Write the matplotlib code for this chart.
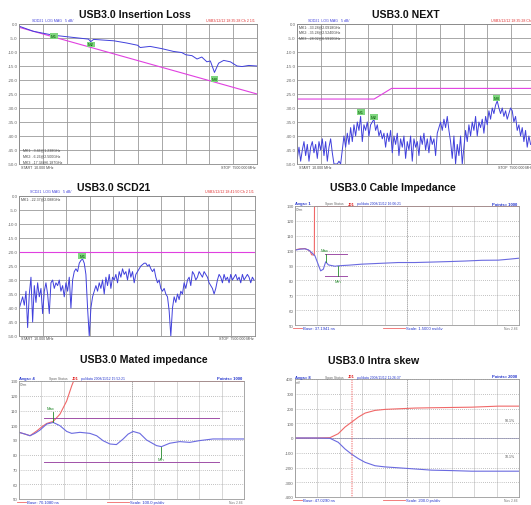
import numpy as np
import matplotlib
matplotlib.use("Agg")
import matplotlib.pyplot as plt

plt.rcParams['font.family'] = ['Liberation Sans', 'DejaVu Sans']

# ---------------- data ----------------
# Insertion loss (SDD21), GHz / dB
il_freq = [0.01, 0.45, 1.08, 1.71, 2.19, 2.26, 2.35, 2.99, 3.40, 3.74, 3.82, 4.13, 4.50,
           4.87, 5.13, 5.26, 5.45, 5.61, 5.76, 5.92, 6.03, 6.16, 6.29, 6.45, 6.66, 6.87,
           7.03, 7.24, 7.50]
il_db = [-0.8, -2.6, -4.0, -4.8, -5.4, -6.3, -5.5, -6.0, -6.8, -7.6, -8.4, -8.0, -8.8,
         -9.8, -10.2, -11.0, -11.3, -12.5, -11.8, -13.5, -13.2, -17.3, -14.0, -13.0, -13.5,
         -15.0, -15.2, -14.8, -15.0]
il_limit_freq = [0.01, 7.5]
il_limit_db = [-1.2, -25.0]
il_markers = [("M1", 1.10, -4.4), ("M2", 2.26, -7.3), ("M3", 6.16, -19.6)]

# NEXT (SDD21 near end), 141 sweep points
next_db = [-48, -44, -49, -45, -42, -47, -43, -49, -44, -42, -46, -43, -48, -42, -45, -41,
           -47, -42, -49, -44, -41, -46, -50, -50, -50, -49, -50, -45, -40, -44, -39, -43,
           -37, -42, -36, -40, -35, -38, -33, -42, -36, -38, -35, -40, -36, -35, -34, -38,
           -36, -40, -38, -41, -39, -44, -39, -42, -38, -46, -40, -43, -39, -47, -41, -44,
           -40, -48, -42, -45, -40, -49, -41, -44, -42, -47, -40, -43, -39, -45, -41, -46,
           -40, -43, -41, -47, -39, -37, -35, -38, -34, -37, -33, -38, -42, -48, -40, -50,
           -43, -47, -40, -50, -44, -38, -42, -36, -40, -35, -38, -33, -40, -35, -37, -34,
           -39, -33, -36, -31, -34, -30, -32, -29, -27.5, -30, -32, -30, -33, -31, -34, -32,
           -30, -31, -35, -33, -38, -36, -40, -37, -42, -38, -44, -40, -43]
next_freq = np.linspace(0.01, 7.36, len(next_db))
next_limit_freq = [0.01, 2.43, 2.98, 7.5]
next_limit_db = [-26.8, -26.8, -23.0, -23.0]
next_markers = [("M1", 2.02, -31.5), ("M2", 2.42, -33.3), ("M3", 6.29, -26.3)]

# SCD21, 142 sweep points
scd_db = [-40, -38, -36, -39, -34, -47, -35, -29, -45, -32, -38, -31, -36, -33, -42, -34,
          -31, -35, -42, -31, -30, -33, -31, -32, -30, -34, -32, -36, -31, -34, -29, -40,
          -30, -27, -26, -27, -24, -23, -22.5, -24, -28, -40, -50, -40, -36, -34, -32, -34,
          -31, -33, -30, -35, -29, -32, -28, -33, -29, -30, -28, -31, -27, -29, -26, -28,
          -27, -30, -26, -29, -27, -31, -28, -27, -26, -25, -24.5, -24, -24, -25, -24.5, -26,
          -27, -26, -29, -31, -30, -33, -34, -33, -35, -36, -41, -50, -40, -36, -38, -35,
          -37, -34, -35, -31, -33, -30, -29, -32, -27, -28, -30, -29, -27, -28, -29, -27,
          -28, -29, -31, -32, -33, -35, -33, -30, -28, -29, -31, -28, -30, -29, -31, -28,
          -30, -29, -28, -30, -29, -31, -28, -30, -29, -28, -29, -31, -29, -30]
scd_freq = np.linspace(0.01, 7.47, len(scd_db))
scd_limit_db = -20.0
scd_markers = [("M1", 2.01, -21.3)]

# Cable impedance (TDR), ns / ohm
cab_t = [37.19, 37.53, 37.86, 38.09, 38.31, 38.53, 38.76, 38.91, 39.09, 39.25, 39.43, 39.87,
         40.09, 40.77, 41.66, 43.00, 44.11, 45.23, 46.35, 47.69, 48.58, 49.70, 50.81, 51.48,
         52.19]
cab_z = [100.3, 101.0, 101.2, 100.5, 98.7, 96.5, 90.4, 86.4, 87.5, 92.5, 90.4, 89.5,
         89.8, 90.2, 90.9, 91.5, 92.0, 92.0, 92.3, 92.7, 93.0, 93.5, 93.6, 94.2, 94.9]
cab_ref_t = [37.19, 37.53, 37.86, 38.20, 38.31, 38.49, 38.50, 52.19]
cab_ref_z = [100.5, 101.2, 101.4, 99.8, 97.2, 97.0, 129.7, 129.7]

# Mated impedance (TDR), ns / ohm
mat_t = [70.108, 70.135, 70.157, 70.179, 70.201, 70.231, 70.260, 70.290, 70.320, 70.342,
         70.379, 70.423, 70.453, 70.482, 70.512, 70.541, 70.571, 70.593, 70.615, 70.645,
         70.675, 70.719, 70.741, 70.778, 70.822, 70.867, 70.911, 70.970, 71.108]
mat_z = [95.2, 94.0, 92.9, 94.5, 96.7, 100.8, 101.9, 99.7, 95.8, 94.5,
         95.2, 94.5, 92.9, 89.5, 87.3, 86.9, 90.7, 94.0, 95.8, 94.5,
         90.0, 86.2, 85.5, 87.8, 88.9, 88.4, 89.6, 90.7, 90.7]
mat_ref_t = [70.108, 70.135, 70.157, 70.190, 70.210, 70.231, 70.260, 70.290, 70.320, 70.342,
             70.350, 71.108]
mat_ref_z = [95.2, 94.0, 92.9, 96.5, 99.0, 101.2, 102.6, 107.5, 116.5, 126.6, 129.7, 129.7]

# Intra skew, ns / mV
skew_t = [47.029, 47.207, 47.341, 47.415, 47.475, 47.535, 47.595, 47.655, 47.743, 47.833,
          47.951, 48.101, 48.249, 48.427, 48.607, 48.845, 49.029]
skew_p = [0, 0, 2, 29, 74, 108, 142, 169, 187, 194, 198, 203, 205, 207, 209, 216, 216]
skew_n = [0, 0, -2, -29, -74, -110, -140, -165, -188, -196, -202, -210, -218, -221, -225,
          -225, -225]

W, H = 531, 506
fig = plt.figure(figsize=(W / 100, H / 100), dpi=100)

BLUE = '#4040dc'
PINK = '#e040e0'
RED = '#f06868'
PURPLE = '#a050a8'
GREEN = '#22882a'


def box(l, t, r, b):
    return [l / W, 1 - b / H, (r - l) / W, (b - t) / H]


def ftext(x, y, s, **kw):
    fig.text(x / W, 1 - y / H, s, **kw)


def title(x, y, s):
    ftext(x, y, s, ha='center', va='center', fontsize=7.6, fontweight='bold', color='#111111')


def marker(ax, name, x, y):
    ax.text(x, y, name, fontsize=3.1, color='#005500', ha='center', va='center',
            bbox=dict(boxstyle='square,pad=0.2', fc='#7fd67f', ec='none'), zorder=6)


def vna_axes(rect):
    ax = fig.add_axes(rect)
    ax.set_xlim(0, 7.5)
    ax.set_ylim(-50, 0)
    ax.set_xticks(np.linspace(0, 7.5, 11))
    ax.set_xticklabels([])
    ax.set_yticks(np.arange(-50, 1, 5))
    ax.set_yticklabels(['%.1f' % v for v in np.arange(-50, 1, 5)], fontsize=3.2,
                       color='#666666')
    ax.tick_params(length=0, pad=1)
    ax.grid(True, color='#9a9a9a', lw=0.6)
    for s in ax.spines.values():
        s.set_color('#888888')
        s.set_linewidth(0.6)
    return ax


# ---- Insertion loss ----
title(135, 15, 'USB3.0 Insertion Loss')
ax1 = vna_axes(box(19, 25, 257, 165))
ax1.plot(il_limit_freq, il_limit_db, color=PINK, lw=0.8)
ax1.plot(il_freq, il_db, color=BLUE, lw=0.7)
for m in il_markers:
    marker(ax1, *m)
ftext(32, 22, 'SDD21  LOG MAG   5 dB/', fontsize=2.6, color=BLUE)
ftext(255, 22, 'USB3/12/12 18:35:28 Ch 2 1/1', fontsize=2.6, color='#e03030', ha='right')
for i, s in enumerate(['MK1: -3.46@1.238GHz', 'MK2: -6.26@2.500GHz', 'MK3: -17.34@6.187GHz']):
    ftext(23, 150 + 6 * i, s, fontsize=2.6, color='#444444', va='center')
ftext(21, 168, 'START  10.000 MHz', fontsize=2.6, color='#444444', va='center')
ftext(256, 168, 'STOP  7500.000 MHz', fontsize=2.6, color='#444444', va='center', ha='right')

# ---- NEXT ----
title(406, 15, 'USB3.0 NEXT')
ax2 = vna_axes(box(297, 25, 535, 165))
ax2.plot(next_limit_freq, next_limit_db, color=PINK, lw=0.8)
ax2.plot(next_freq, next_db, color=BLUE, lw=0.7)
for m in next_markers:
    marker(ax2, *m)
ftext(308, 22, 'SDD21  LOG MAG   5 dB/', fontsize=2.6, color=BLUE)
ftext(531, 22, 'USB3/12/12 18:35:28 Ch', fontsize=2.6, color='#e03030', ha='right')
for i, s in enumerate(['MK1: -33.28@2.0918GHz', 'MK2: -35.28@2.5240GHz', 'MK3: -28.02@6.5910GHz']):
    ftext(299, 27 + 5.5 * i, s, fontsize=2.6, color='#444444', va='center')
ftext(299, 168, 'START  10.000 MHz', fontsize=2.6, color='#444444', va='center')
ftext(531, 168, 'STOP  7500.000 MH', fontsize=2.6, color='#444444', va='center', ha='right')

# ---- SCD21 ----
title(114, 188, 'USB3.0 SCD21')
ax3 = vna_axes(box(19, 197, 255, 337))
ax3.axhline(scd_limit_db, color=PINK, lw=0.8)
ax3.plot(scd_freq, scd_db, color=BLUE, lw=0.7)
for m in scd_markers:
    marker(ax3, *m)
ftext(30, 193, 'SCD21  LOG MAG   5 dB/', fontsize=2.6, color=BLUE)
ftext(254, 193, 'USB3/12/12 18:41:50 Ch 2 1/1', fontsize=2.6, color='#e03030', ha='right')
ftext(21, 199.5, 'MK1: -22.37@2.088GHz', fontsize=2.6, color='#444444', va='center')
ftext(21, 339, 'START  10.000 MHz', fontsize=2.6, color='#444444', va='center')
ftext(254, 339, 'STOP  7500.000 MHz', fontsize=2.6, color='#444444', va='center', ha='right')


def tdr_axes(rect, x0, step, ylim, yticks):
    ax = fig.add_axes(rect)
    ax.set_xlim(x0, x0 + 10 * step)
    ax.set_ylim(*ylim)
    ax.set_xticks([x0 + i * step for i in range(11)])
    ax.set_xticklabels([])
    ax.set_yticks(yticks)
    ax.set_yticklabels([str(v) for v in yticks], fontsize=3.2, color='#666666')
    ax.tick_params(length=0, pad=1)
    ax.grid(True, axis='x', color='#d0d0d0', lw=0.6)
    ax.grid(True, axis='y', color='#888888', lw=0.5, ls=(0, (1, 2)))
    ax.axvline(x0 + 5 * step, color='#888888', lw=0.5, ls=(0, (1, 2)))
    for s in ax.spines.values():
        s.set_color('#999999')
        s.set_linewidth(0.6)
    return ax


def tdr_texts(l, r, top, bottom, avgs, pts, date, base, scale, unit):
    ftext(l, top - 2.5, avgs, fontsize=3, color='#2233cc', fontweight='bold', va='center')
    ftext(l + 30, top - 2.5, 'Span Status', fontsize=2.4, color='#666666', va='center')
    ftext(l + 53, top - 2.5, 'J01', fontsize=3, color='#e02020', fontweight='bold', va='center')
    ftext(l + 62, top - 2.5, 'pulldata ' + date, fontsize=2.4, color='#2233cc', va='center')
    ftext(r - 2, top - 2.5, pts, fontsize=3, color='#2233cc', fontweight='bold',
          va='center', ha='right')
    ftext(l + 1, top + 3, unit, fontsize=2.4, color='#666666', va='center')
    fig.add_artist(plt.Line2D([(l - 2) / W, (l + 7) / W], [1 - (bottom + 3) / H] * 2,
                              color=RED, lw=0.6))
    ftext(l + 8, bottom + 3, base, fontsize=3, color='#2233cc', va='center')
    fig.add_artist(plt.Line2D([(l + 88) / W, (l + 110) / W], [1 - (bottom + 3) / H] * 2,
                              color=RED, lw=0.6))
    ftext(l + 111, bottom + 3, scale, fontsize=3, color='#2233cc', va='center')
    ftext(r - 1, bottom + 3, 'Nos 2.66', fontsize=2.4, color='#777777', va='center', ha='right')


z_ticks = [50, 60, 70, 80, 90, 100, 110, 120, 130]

# ---- Cable impedance ----
title(393, 188, 'USB3.0 Cable Impedance')
ax4 = tdr_axes(box(295, 207, 519, 326), 37.1941, 1.5, (50, 130), z_ticks)
ax4.plot(cab_ref_t, cab_ref_z, color=RED, lw=0.8)
ax4.plot(cab_t, cab_z, color='#6a6ae0', lw=0.8)
ax4.plot([39.22, 40.65], [97.6, 97.6], color=PURPLE, lw=0.7)
ax4.plot([39.22, 40.65], [83.1, 83.1], color=PURPLE, lw=0.7)
ax4.plot([39.25, 39.25], [92.5, 97.6], color=GREEN, lw=0.6)
ax4.plot([40.05, 40.05], [89.8, 83.1], color=GREEN, lw=0.6)
ax4.text(39.20, 100.5, 'Max', fontsize=3, color=GREEN, ha='center', va='center')
ax4.text(40.05, 79.5, 'Min', fontsize=3, color=GREEN, ha='center', va='center')
tdr_texts(295, 519, 207, 326, 'Avgs= 1', 'Points= 1000', '2008/11/12 16:06:21',
          'Base: 37.1941 ns', 'Scale: 1.5000 ns/div', 'Ohm')

# ---- Mated impedance ----
title(144, 360, 'USB3.0 Mated impedance')
ax5 = tdr_axes(box(19, 382, 244, 500), 70.108, 0.1, (50, 130), z_ticks)
ax5.plot(mat_ref_t, mat_ref_z, color=RED, lw=0.8)
ax5.plot(mat_t, mat_z, color='#6a6ae0', lw=0.8)
ax5.plot([70.220, 70.999], [105.1, 105.1], color=PURPLE, lw=0.7)
ax5.plot([70.220, 70.999], [74.9, 74.9], color=PURPLE, lw=0.7)
ax5.plot([70.260, 70.260], [101.9, 109.0], color=GREEN, lw=0.6)
ax5.plot([70.741, 70.741], [85.5, 78.0], color=GREEN, lw=0.6)
ax5.text(70.250, 111.5, 'Max', fontsize=3, color=GREEN, ha='center', va='center')
ax5.text(70.741, 77.2, 'Min', fontsize=3, color=GREEN, ha='center', va='center')
tdr_texts(19, 244, 382, 500, 'Avgs= 4', 'Points= 1000', '2008/11/12 15:52:21',
          'Base: 70.1080 ns', 'Scale: 100.0 ps/div', 'Ohm')

# ---- Intra skew ----
title(374, 361, 'USB3.0 Intra skew')
ax6 = tdr_axes(box(295, 380, 519, 498), 47.029, 0.2, (-400, 400),
               [-400, -300, -200, -100, 0, 100, 200, 300, 400])
ax6.axhline(0, color='#8888aa', lw=0.5)
ax6.plot(skew_t, skew_p, color=RED, lw=0.8)
ax6.plot(skew_t, skew_n, color='#6a6ae0', lw=0.8)
ax6.axvline(47.529, color=RED, lw=0.5, ls=(0, (1, 1.5)))
ax6.axvline(47.541, color=RED, lw=0.5, ls=(0, (1, 1.5)))
ax6.text(48.99, 125, '90.1%', fontsize=2.6, color='#555555', ha='right', va='center')
ax6.text(48.99, -125, '10.1%', fontsize=2.6, color='#555555', ha='right', va='center')
tdr_texts(295, 519, 380, 498, 'Avgs= 8', 'Points= 2000', '2008/11/12 11:26:37',
          'Base: 47.0290 ns', 'Scale: 200.0 ps/div', 'mV')

fig.savefig('out.png', dpi=100)
